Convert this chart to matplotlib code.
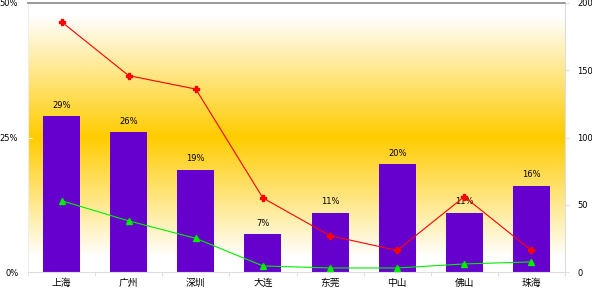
import numpy as np
import matplotlib
matplotlib.use("Agg")
import matplotlib.pyplot as plt
from matplotlib.colors import LinearSegmentedColormap

plt.rcParams['font.family'] = ['DejaVu Sans', 'Noto Sans CJK SC']

# data
cities = ['上海', '广州', '深圳', '大连', '东莞', '中山', '佛山', '珠海']
share = [29, 26, 19, 7, 11, 20, 11, 16]          # bars, left axis (%)
red_vals = [186, 146, 136, 55, 27, 16, 56, 16]     # right axis
green_vals = [53, 38, 25, 4.5, 3, 3, 6, 7.5]       # right axis

fig = plt.figure(figsize=(5.92, 2.90), dpi=100)
ax = fig.add_axes([28/592, 18/290, 537/592, 269/290])

# gradient background
cmap = LinearSegmentedColormap.from_list('bg', [
    (0.0, 'white'), (0.052, 'white'), (0.502, '#ffcc00'),
    (0.955, 'white'), (1.0, 'white')])
grad = np.linspace(0, 1, 300).reshape(-1, 1)
ax.imshow(grad, aspect='auto', cmap=cmap, origin='lower',
          extent=[-0.5, len(cities) - 0.5, 0, 50], zorder=0)

x = np.arange(len(cities))
ax.bar(x, share, width=0.55, color='#6600cc', zorder=2)
for xi, v in zip(x, share):
    ax.text(xi, v + 1.2, f'{v}%', ha='center', va='bottom', fontsize=6, zorder=5)

ax.set_xlim(-0.5, len(cities) - 0.5)
ax.set_ylim(0, 50)
ax.set_yticks([0, 25, 50])
ax.set_yticklabels(['0%', '25%', '50%'], fontsize=6)
ax.set_xticks(x)
ax.set_xticklabels(cities, fontsize=7, family=['Noto Sans CJK SC'])
ax.set_xticks(np.arange(-0.5, len(cities)), minor=True)
ax.tick_params(axis='x', which='major', length=0, pad=4)
ax.tick_params(axis='x', which='minor', length=3, color='#dddddd')
ax.tick_params(axis='y', length=3, direction='in', color='white', pad=7)

ax.spines['top'].set_color('#888888')
ax.spines['top'].set_linewidth(1.2)
ax.spines['left'].set_color('#eeeeee')
ax.spines['right'].set_color('#dddddd')
ax.spines['bottom'].set_color('#dddddd')

ax2 = ax.twinx()
ax2.plot(x, red_vals, color='red', lw=0.8, marker='P', ms=4, zorder=4)
ax2.plot(x, green_vals, color='#00ee00', lw=0.8, marker='^', ms=4, zorder=4)
ax2.set_ylim(0, 200)
ax2.set_yticks([0, 50, 100, 150, 200])
ax2.tick_params(axis='y', labelsize=6, length=3, color='#dddddd', pad=6)
for s in ax2.spines.values():
    s.set_visible(False)

fig.savefig('out.png', dpi=100)
